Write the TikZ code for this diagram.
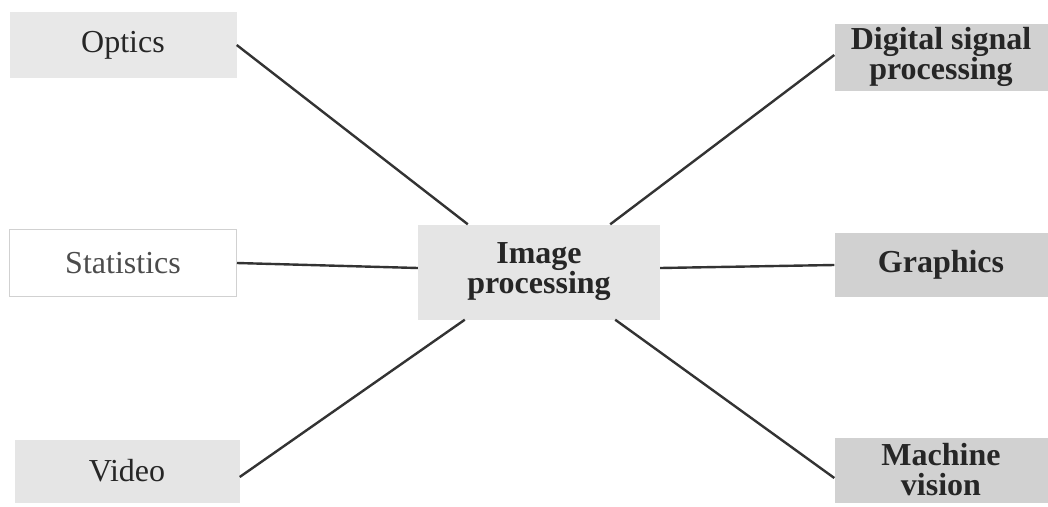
\documentclass[tikz,border=0pt]{standalone}
\usepackage{fontspec}
\setmainfont{Liberation Serif}
\usetikzlibrary{calc}
\begin{document}
\begin{tikzpicture}[x=1pt,y=-1pt,
  box/.style={draw=none,inner sep=0pt,align=center,font=\fontsize{32}{30}\selectfont,text=black!85},
  leftbox/.style={box,fill=black!9},
  rightbox/.style={box,fill=black!18,font=\fontsize{32}{30}\selectfont\bfseries},
  conn/.style={draw=black!80,line width=2.4pt}]
\useasboundingbox[fill=white] (0,0) rectangle (1048,506);
\node[leftbox,minimum width=227pt,minimum height=66pt] (optics) at (123,45) {Optics};
\node[box,fill=white,draw=black!18,line width=1pt,text=black!70,minimum width=227pt,minimum height=67pt] (stat) at (123,263) {Statistics};
\node[leftbox,fill=black!10,minimum width=225pt,minimum height=63pt] (video) at (127,471) {Video};
\node[box,fill=black!10,font=\fontsize{32}{30}\selectfont\bfseries,minimum width=242pt,minimum height=95pt] (ip) at (539,272) {Image\\processing};
\node[rightbox,minimum width=213pt,minimum height=67pt] (dsp) at (941,57) {Digital signal\\processing};
\node[rightbox,minimum width=213pt,minimum height=64pt] (gfx) at (941,265) {Graphics};
\node[rightbox,minimum width=213pt,minimum height=65pt] (mv) at (941,470) {Machine\\vision};
\draw[conn] (optics.east) -- ($(ip.north west)+(50,0)$);
\draw[conn] (stat.east) -- ($(ip.west)+(0,-4)$);
\draw[conn] ($(video.east)+(0,6)$) -- ($(ip.south west)+(47,0)$);
\draw[conn] ($(dsp.west)+(0,-2)$) -- ($(ip.north east)+(-50,0)$);
\draw[conn] (gfx.west) -- ($(ip.east)+(0,-4)$);
\draw[conn] ($(mv.west)+(0,8)$) -- ($(ip.south east)+(-45,0)$);
\end{tikzpicture}
\end{document}
